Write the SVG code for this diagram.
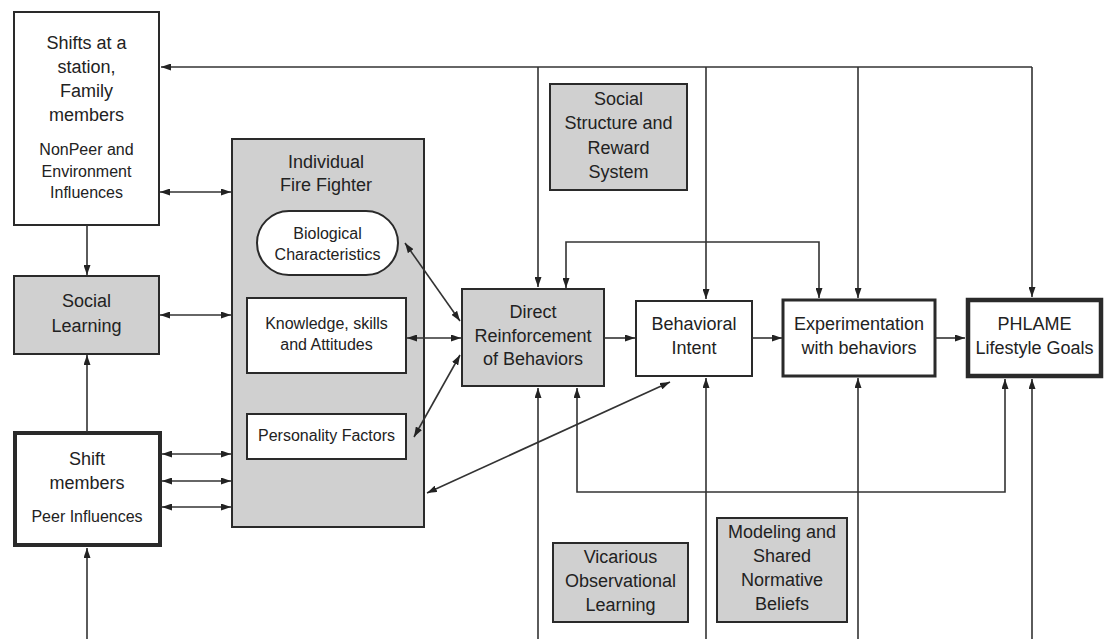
<svg xmlns="http://www.w3.org/2000/svg" width="1111" height="639" viewBox="0 0 1111 639">
<style>
.box{fill:#fff;stroke:#2a2a2a;stroke-width:2}
.gray{fill:#d0d0d0;stroke:#2a2a2a;stroke-width:2}
.t{font-family:"Liberation Sans",Arial,sans-serif;font-size:18px;fill:#222;text-anchor:middle}
.s{font-family:"Liberation Sans",Arial,sans-serif;font-size:16px;fill:#222;text-anchor:middle}
.c{fill:none;stroke:#333;stroke-width:1.6}
</style>
<defs>
<marker id="ah" viewBox="0 0 10 7" refX="10" refY="3.5" markerWidth="10" markerHeight="7" markerUnits="userSpaceOnUse" orient="auto-start-reverse">
<path d="M0,0 L10,3.5 L0,7 z" fill="#222"/>
</marker>
</defs>
<rect width="1111" height="639" fill="#fff"/>
<g id="nonpeer">
<rect class="box" x="14" y="12" width="145" height="213"/>
<text class="t" x="86.5" y="49">Shifts at a</text>
<text class="t" x="86.5" y="73">station,</text>
<text class="t" x="86.5" y="97">Family</text>
<text class="t" x="86.5" y="121">members</text>
<text class="s" x="86.5" y="155">NonPeer and</text>
<text class="s" x="86.5" y="177">Environment</text>
<text class="s" x="86.5" y="198">Influences</text>
</g>
<g id="social-learning">
<rect class="gray" x="14" y="276" width="145" height="78"/>
<text class="t" x="86.5" y="307">Social</text>
<text class="t" x="86.5" y="332">Learning</text>
</g>
<g id="shift-members">
<rect class="box" x="15" y="433" width="145" height="112" style="stroke-width:4"/>
<text class="t" x="87" y="465">Shift</text>
<text class="t" x="87" y="489">members</text>
<text class="s" x="87" y="522">Peer Influences</text>
</g>
<g id="fire-fighter">
<rect class="gray" x="232" y="139" width="192" height="388"/>
<text class="t" x="326" y="168">Individual</text>
<text class="t" x="326" y="191">Fire Fighter</text>
</g>
<g id="biological">
<rect class="box" x="257" y="211" width="141" height="64" rx="32" ry="32"/>
<text class="s" x="327.5" y="238.5">Biological</text>
<text class="s" x="327.5" y="259.5">Characteristics</text>
</g>
<g id="knowledge">
<rect class="box" x="247" y="298" width="159" height="75"/>
<text class="s" x="326.5" y="328.5">Knowledge, skills</text>
<text class="s" x="326.5" y="349.5">and Attitudes</text>
</g>
<g id="personality">
<rect class="box" x="247" y="414" width="159" height="45"/>
<text class="s" x="326.5" y="440.5">Personality Factors</text>
</g>
<g id="social-structure">
<rect class="gray" x="550" y="84" width="137" height="106"/>
<text class="t" x="618.5" y="105">Social</text>
<text class="t" x="618.5" y="129">Structure and</text>
<text class="t" x="618.5" y="154">Reward</text>
<text class="t" x="618.5" y="178">System</text>
</g>
<g id="direct-reinforcement">
<rect class="gray" x="462" y="289" width="142" height="97"/>
<text class="t" x="533" y="318">Direct</text>
<text class="t" x="533" y="342">Reinforcement</text>
<text class="t" x="533" y="365">of Behaviors</text>
</g>
<g id="behavioral-intent">
<rect class="box" x="636" y="301" width="116" height="75"/>
<text class="t" x="694" y="330">Behavioral</text>
<text class="t" x="694" y="354">Intent</text>
</g>
<g id="experimentation">
<rect class="box" x="783" y="300" width="152" height="76" style="stroke-width:3"/>
<text class="t" x="859" y="330">Experimentation</text>
<text class="t" x="859" y="354">with behaviors</text>
</g>
<g id="phlame">
<rect class="box" x="968" y="300" width="133" height="76" style="stroke-width:4.5"/>
<text class="t" x="1034.5" y="330">PHLAME</text>
<text class="t" x="1034.5" y="354">Lifestyle Goals</text>
</g>
<g id="vicarious">
<rect class="gray" x="553" y="543" width="135" height="79"/>
<text class="t" x="620.5" y="563">Vicarious</text>
<text class="t" x="620.5" y="587">Observational</text>
<text class="t" x="620.5" y="611">Learning</text>
</g>
<g id="modeling">
<rect class="gray" x="717" y="518" width="130" height="104"/>
<text class="t" x="782" y="538">Modeling and</text>
<text class="t" x="782" y="562">Shared</text>
<text class="t" x="782" y="586">Normative</text>
<text class="t" x="782" y="610">Beliefs</text>
</g>
<g id="connectors">
<path class="c" d="M1032,67 H161" marker-end="url(#ah)"/>
<path class="c" d="M538,67 V287" marker-end="url(#ah)"/>
<path class="c" d="M706,67 V299" marker-end="url(#ah)"/>
<path class="c" d="M858,67 V298" marker-end="url(#ah)"/>
<path class="c" d="M1032,67 V297" marker-end="url(#ah)"/>
<path class="c" d="M566,288 V242 H819 V298" marker-start="url(#ah)" marker-end="url(#ah)"/>
<path class="c" d="M538,639 V388" marker-end="url(#ah)"/>
<path class="c" d="M706,639 V378" marker-end="url(#ah)"/>
<path class="c" d="M858,639 V378" marker-end="url(#ah)"/>
<path class="c" d="M1032,639 V379" marker-end="url(#ah)"/>
<path class="c" d="M577,388 V492 H1005 V379" marker-start="url(#ah)" marker-end="url(#ah)"/>
<path class="c" d="M87,225 V275" marker-end="url(#ah)"/>
<path class="c" d="M87,432 V355" marker-end="url(#ah)"/>
<path class="c" d="M87,639 V548" marker-end="url(#ah)"/>
<path class="c" d="M160,192 H231" marker-start="url(#ah)" marker-end="url(#ah)"/>
<path class="c" d="M160,315 H231" marker-start="url(#ah)" marker-end="url(#ah)"/>
<path class="c" d="M162,454 H231" marker-start="url(#ah)" marker-end="url(#ah)"/>
<path class="c" d="M162,481 H231" marker-start="url(#ah)" marker-end="url(#ah)"/>
<path class="c" d="M162,507 H231" marker-start="url(#ah)" marker-end="url(#ah)"/>
<path class="c" d="M405,243 L460,321" marker-start="url(#ah)" marker-end="url(#ah)"/>
<path class="c" d="M407,338 H461" marker-start="url(#ah)" marker-end="url(#ah)"/>
<path class="c" d="M414,437 L460,355" marker-start="url(#ah)" marker-end="url(#ah)"/>
<path class="c" d="M427,493 L670,382" marker-start="url(#ah)" marker-end="url(#ah)"/>
<path class="c" d="M604,338 H635" marker-end="url(#ah)"/>
<path class="c" d="M752,338 H782" marker-end="url(#ah)"/>
<path class="c" d="M935,338 H965" marker-end="url(#ah)"/>
</g>
</svg>
